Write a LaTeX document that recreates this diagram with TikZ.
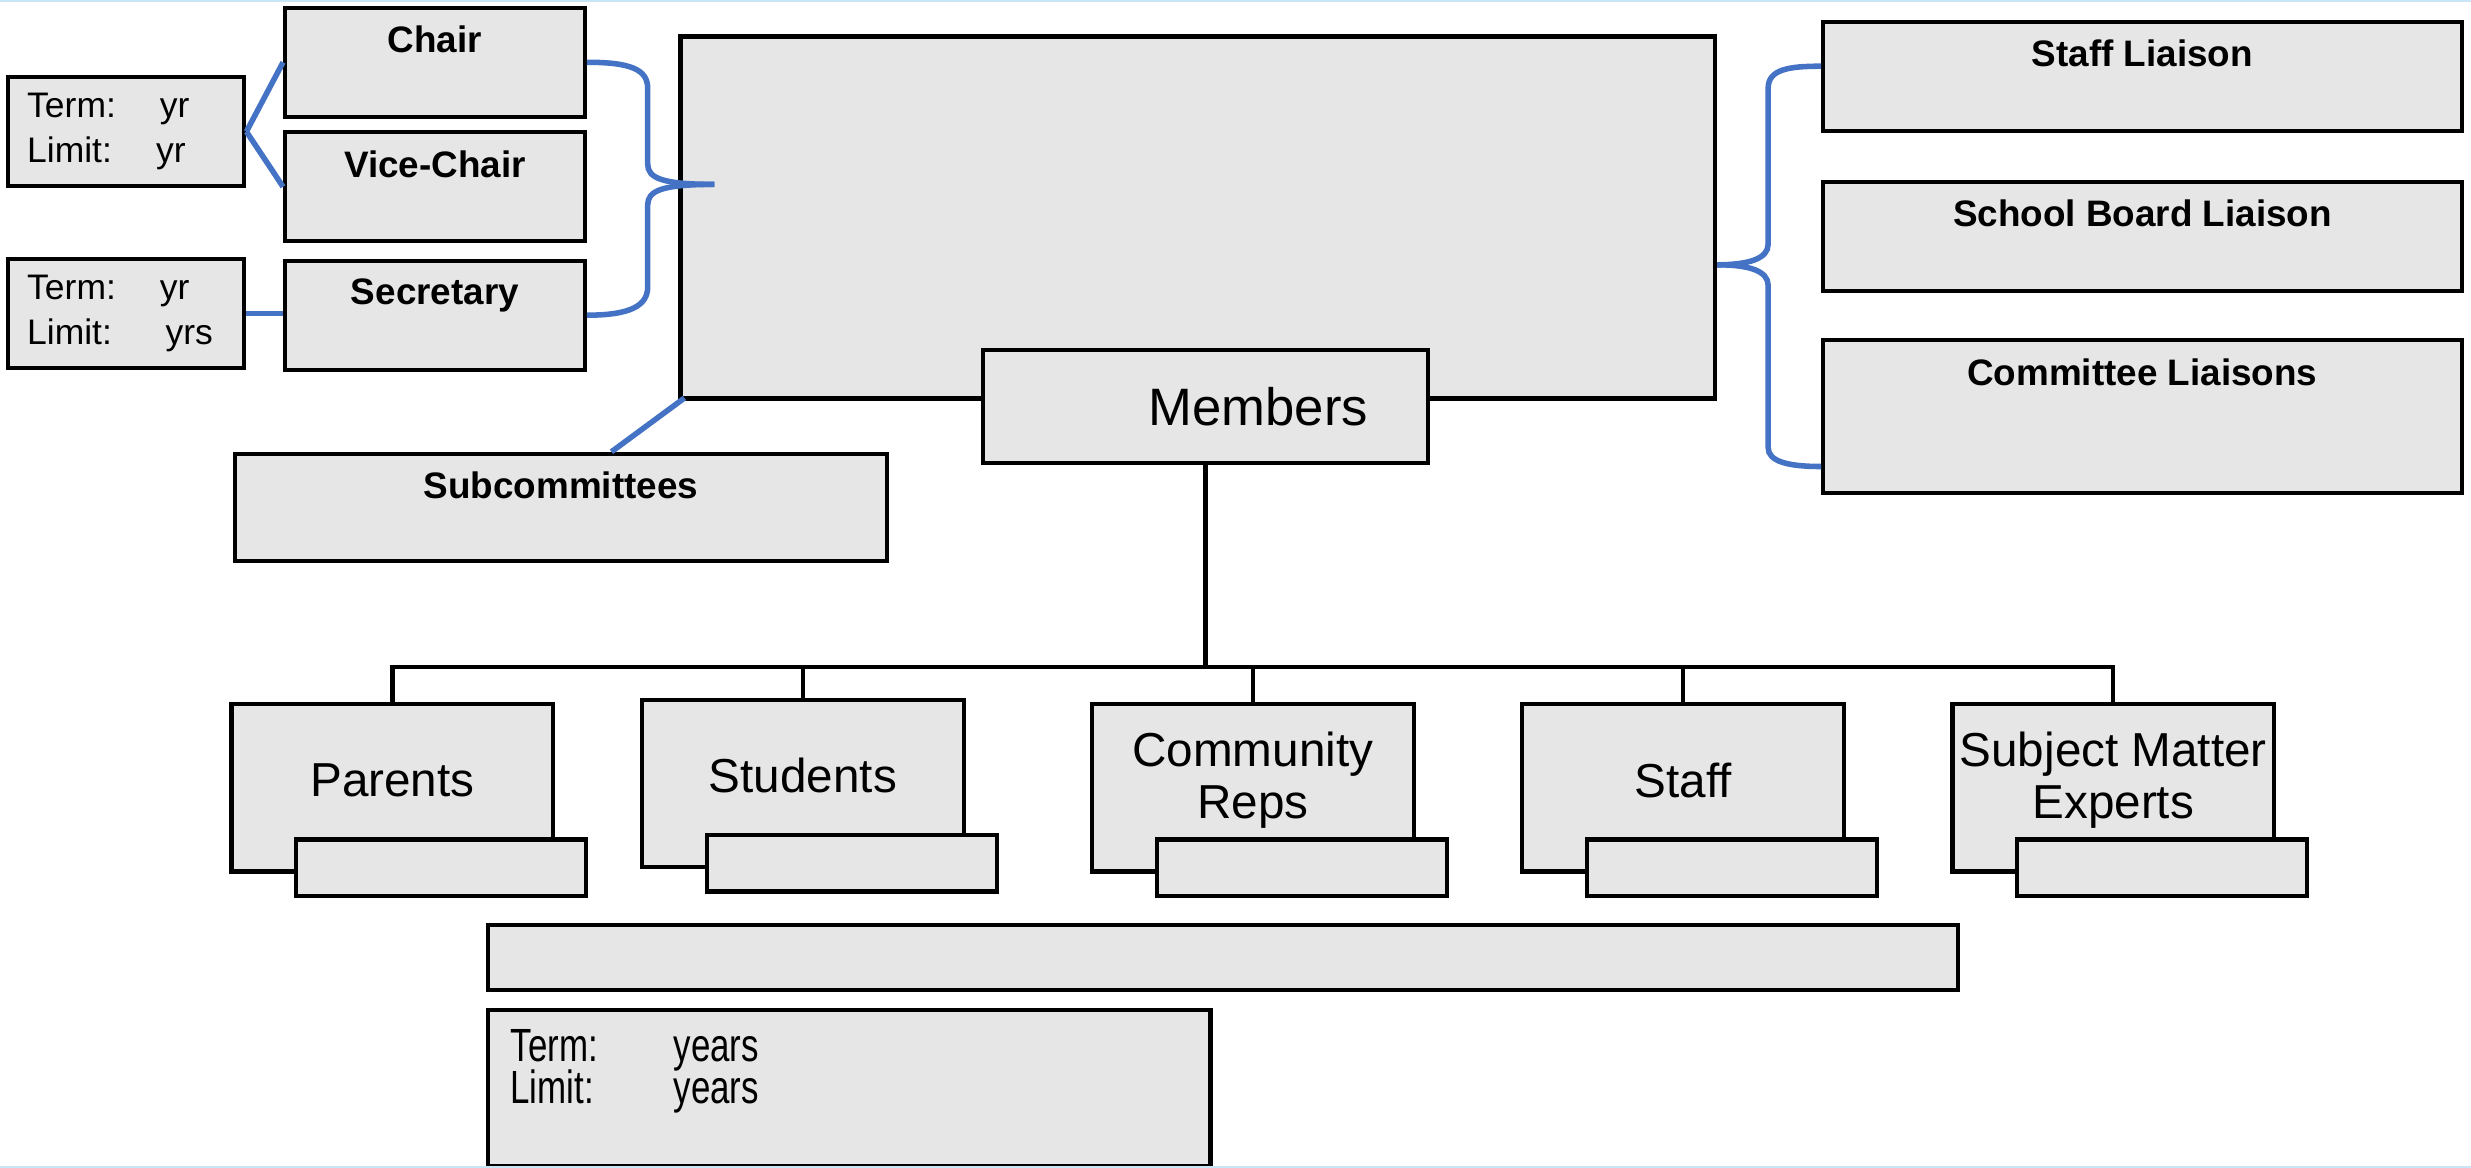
\documentclass[tikz,border=0pt]{standalone}
\usepackage{fontspec}
\setmainfont{Liberation Sans}
\newfontfamily\narrowsans{Liberation Sans}[FakeStretch=0.75]
\newcommand\termsfont{\narrowsans\fontsize{8.4}{7.6}\selectfont\lineskiplimit=-10pt\relax}
\usepackage{tikz}
\usetikzlibrary{positioning}
\definecolor{panel}{RGB}{230,230,230}
\definecolor{linkblue}{RGB}{68,114,196}
\definecolor{frameblue}{RGB}{200,228,246}
\tikzset{
    role/.style={rectangle, draw, line width=0.75pt, fill=panel, minimum width=1.9cm, minimum height=0.69cm, inner sep=0pt},
    boxtitle/.style={label={[anchor=north, inner sep=0pt, yshift=-0.12cm, font=\fontsize{6.65}{8}\selectfont\bfseries]north:#1}},
    liaison/.style={role, minimum width=4.05cm},
    group/.style={role, minimum width=2.04cm, minimum height=1.06cm},
    grouplabel/.style={label={[align=center, inner sep=0pt, yshift=0.05cm, font=\fontsize{8.6}{9.4}\selectfont]center:#1}},
    tagbox/.style={role, minimum width=1.84cm, minimum height=0.36cm},
    termbox/.style={role, minimum width=1.5cm, text width=1.254cm, inner xsep=0.123cm, align=left, font=\fontsize{6.4}{8.1}\selectfont},
    link/.style={draw=linkblue, line width=1pt},
    tree/.style={draw, line width=0.8pt}
}

\begin{document}
\begin{tikzpicture}[
    x=0.01cm, y=-0.01cm,
    frame/.style={draw=frameblue, line width=0.6pt}
]
    \useasboundingbox (0,0) rectangle (1568,741);
    % Council
    \node[role, minimum width=6.56cm, minimum height=2.3cm, line width=0.85pt] (council) at (760,138) {};
    \node[role, minimum width=2.82cm, minimum height=0.72cm, text width=2.06cm, inner xsep=0.38cm, align=right, font=\fontsize{9.5}{11}\selectfont] (members) at (765,258) {Members};

    % Officers
    \node[role, boxtitle=Chair] (chair) at (276,39.5) {};
    \node[role, boxtitle=Vice-Chair] (vicechair) at (276,118.5) {};
    \node[role, boxtitle=Secretary] (secretary) at (276,200) {};
    \node[termbox] (chairterm) at (80,83.5) {Term:\hspace{0.28cm}yr\\Limit:\hspace{0.28cm}yr};
    \node[termbox] (secterm) at (80,199) {Term:\hspace{0.28cm}yr\\Limit:\hspace{0.34cm}yrs};

    % Subcommittees
    \node[role, minimum width=4.14cm, minimum height=0.68cm, boxtitle=Subcommittees] (subcomm) at (356,322) {};

    % Liaisons
    \node[liaison, boxtitle=Staff Liaison] (staffliaison) at (1359.5,48.5) {};
    \node[liaison, boxtitle=School Board Liaison] (boardliaison) at (1359.5,150) {};
    \node[liaison, minimum height=0.97cm, boxtitle=Committee Liaisons] (commliaison) at (1359.5,264.5) {};

    % Member groups
    \node[group, grouplabel=Parents] (parents) at (249,500) {};
    \node[group, grouplabel=Students] (students) at (509.5,497) {};
    \node[group, grouplabel={Community\\Reps}] (community) at (795,500) {};
    \node[group, grouplabel=Staff] (staff) at (1068,500) {};
    \node[group, grouplabel={Subject Matter\\Experts}] (experts) at (1341,500) {};
    \foreach \g in {parents,students,community,staff,experts}
        \node[tagbox, anchor=north east] (\g-tag) at ([xshift=0.21cm, yshift=0.23cm]\g.south east) {};

    % Bottom panels
    \node[role, minimum width=9.32cm, minimum height=0.41cm] (notes) at (776,607.5) {};
    \node[role, minimum width=4.58cm, minimum height=0.99cm] (terms) at (539,690.5) {};
    \node[anchor=north west, inner sep=0pt, align=left, font=\termsfont] (termtext) at ([xshift=0.147cm, yshift=-0.13cm]terms.north west) {\makebox[1.035cm][l]{Term:}years\\\makebox[1.035cm][l]{Limit:}years};

    % Officer links
    \draw[link] (chairterm.east) -- (chair.west);
    \draw[link] (chairterm.east) -- (vicechair.west);
    \draw[link] (secterm.east) -- (secterm.east -| secretary.west);
    \draw[link] ([xshift=0.32cm]subcomm.north) -- ([xshift=0.04cm, yshift=0.02cm]council.south west);

    % Braces
    \coordinate (lefttip) at ([xshift=0.23cm, yshift=0.21cm]council.west);
    \draw[link] (chair.east) .. controls (400,39.5) and (411,44) .. (411,56) -- (411,104) .. controls (411,113) and (420,117) .. (lefttip);
    \draw[link] (lefttip) .. controls (420,117) and (411,121) .. (411,130) -- (411,182) .. controls (411,194) and (400,200) .. (secretary.east);
    \coordinate (righttip) at ([yshift=-0.3cm]council.east);
    \draw[link] ([yshift=0.065cm]staffliaison.west) .. controls (1135,42) and (1122,44) .. (1122,56) -- (1122,155) .. controls (1122,164) and (1110,168) .. (righttip);
    \draw[link] (righttip) .. controls (1110,168) and (1122,172) .. (1122,181) -- (1122,284) .. controls (1122,293) and (1135,296) .. ([yshift=-0.315cm]commliaison.west);

    % Member tree
    \draw[tree] (members.south) -- ++(0,128) coordinate (bus);
    \foreach \g in {parents,students,community,staff,experts}
        \draw[tree] (bus) -| (\g.north);

    % Page edges
    \draw[frame] (0,0.3) -- (1568,0.3);
    \draw[frame] (0,740.7) -- (1568,740.7);
\end{tikzpicture}
\end{document}
